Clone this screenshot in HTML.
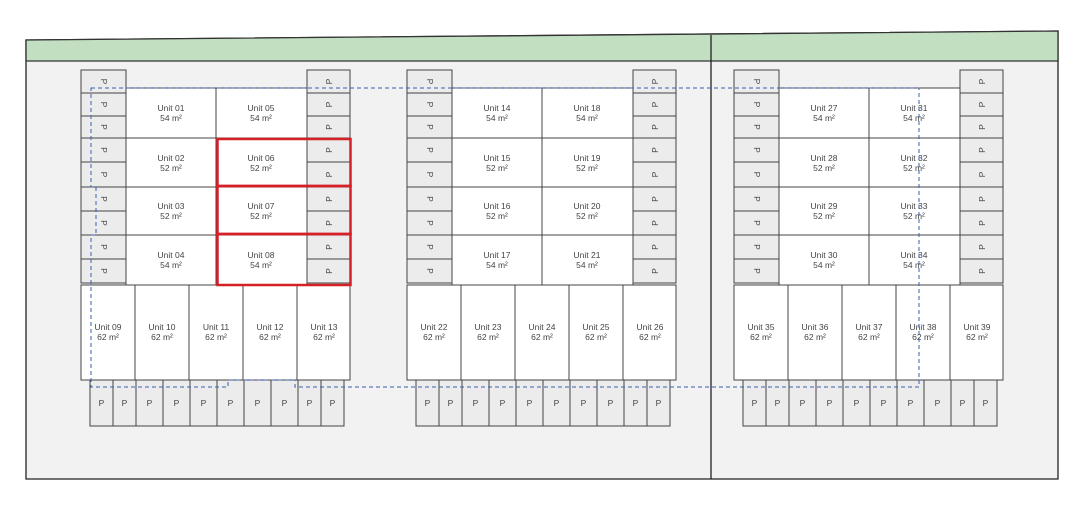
<!DOCTYPE html>
<html><head><meta charset="utf-8"><style>
body{margin:0;background:#fff;width:1080px;height:520px;overflow:hidden}
svg text{font-family:"Liberation Sans",sans-serif;font-size:8.5px;fill:#444;text-anchor:middle}
</style></head><body>
<svg width="1080" height="520" viewBox="0 0 1080 520" xmlns="http://www.w3.org/2000/svg">
<polygon points="26,40 1058,31 1058,479 26,479" fill="#f2f2f2" stroke="#222" stroke-width="1.3"/>
<polygon points="26,40 1058,31 1058,61 26,61" fill="#c2dfc2" stroke="#333" stroke-width="1.3"/>
<line x1="711" y1="35" x2="711" y2="479" stroke="#222" stroke-width="1.3"/>

<g id="A" stroke="#444" stroke-width="1">
<!-- left P -->
<g fill="#ececec">
<rect x="81" y="70" width="45" height="23"/><rect x="81" y="93" width="45" height="23"/><rect x="81" y="116" width="45" height="22"/><rect x="81" y="138" width="45" height="24"/><rect x="81" y="162" width="45" height="25"/><rect x="81" y="187" width="45" height="24"/><rect x="81" y="211" width="45" height="24"/><rect x="81" y="235" width="45" height="24"/><rect x="81" y="259" width="45" height="24"/>
<rect x="307" y="70" width="43" height="23"/><rect x="307" y="93" width="43" height="23"/><rect x="307" y="116" width="43" height="22"/><rect x="307" y="138" width="43" height="24"/><rect x="307" y="162" width="43" height="25"/><rect x="307" y="187" width="43" height="24"/><rect x="307" y="211" width="43" height="24"/><rect x="307" y="235" width="43" height="24"/><rect x="307" y="259" width="43" height="24"/>
<rect x="90" y="380" width="23" height="46"/><rect x="113" y="380" width="23" height="46"/><rect x="136" y="380" width="27" height="46"/><rect x="163" y="380" width="27" height="46"/><rect x="190" y="380" width="27" height="46"/><rect x="217" y="380" width="27" height="46"/><rect x="244" y="380" width="27" height="46"/><rect x="271" y="380" width="27" height="46"/><rect x="298" y="380" width="23" height="46"/><rect x="321" y="380" width="23" height="46"/>
</g>
<g fill="#fff">
<rect x="126" y="88" width="90" height="50"/><rect x="216" y="88" width="91" height="50"/>
<rect x="126" y="138" width="90" height="49"/><rect x="216" y="138" width="91" height="49"/>
<rect x="126" y="187" width="90" height="48"/><rect x="216" y="187" width="91" height="48"/>
<rect x="126" y="235" width="90" height="50"/><rect x="216" y="235" width="91" height="50"/>
<rect x="81" y="285" width="54" height="95"/><rect x="135" y="285" width="54" height="95"/><rect x="189" y="285" width="54" height="95"/><rect x="243" y="285" width="54" height="95"/><rect x="297" y="285" width="53" height="95"/>
</g>
<g stroke="none">
<text transform="translate(104,81.5) rotate(90)" dy="3">P</text><text transform="translate(104,104.5) rotate(90)" dy="3">P</text><text transform="translate(104,127) rotate(90)" dy="3">P</text><text transform="translate(104,150) rotate(90)" dy="3">P</text><text transform="translate(104,174.5) rotate(90)" dy="3">P</text><text transform="translate(104,199) rotate(90)" dy="3">P</text><text transform="translate(104,223) rotate(90)" dy="3">P</text><text transform="translate(104,247) rotate(90)" dy="3">P</text><text transform="translate(104,271) rotate(90)" dy="3">P</text>
<text transform="translate(329,81.5) rotate(-90)" dy="3">P</text><text transform="translate(329,104.5) rotate(-90)" dy="3">P</text><text transform="translate(329,127) rotate(-90)" dy="3">P</text><text transform="translate(329,150) rotate(-90)" dy="3">P</text><text transform="translate(329,174.5) rotate(-90)" dy="3">P</text><text transform="translate(329,199) rotate(-90)" dy="3">P</text><text transform="translate(329,223) rotate(-90)" dy="3">P</text><text transform="translate(329,247) rotate(-90)" dy="3">P</text><text transform="translate(329,271) rotate(-90)" dy="3">P</text>
<text x="101.5" y="406">P</text><text x="124.5" y="406">P</text><text x="149.5" y="406">P</text><text x="176.5" y="406">P</text><text x="203.5" y="406">P</text><text x="230.5" y="406">P</text><text x="257.5" y="406">P</text><text x="284.5" y="406">P</text><text x="309.5" y="406">P</text><text x="332.5" y="406">P</text>
</g>
</g>
<g stroke="none">
<text x="171" y="111">Unit 01</text><text x="171" y="121">54 m²</text><text x="261" y="111">Unit 05</text><text x="261" y="121">54 m²</text>
<text x="171" y="161">Unit 02</text><text x="171" y="171">52 m²</text><text x="261" y="161">Unit 06</text><text x="261" y="171">52 m²</text>
<text x="171" y="209">Unit 03</text><text x="171" y="219">52 m²</text><text x="261" y="209">Unit 07</text><text x="261" y="219">52 m²</text>
<text x="171" y="258">Unit 04</text><text x="171" y="268">54 m²</text><text x="261" y="258">Unit 08</text><text x="261" y="268">54 m²</text>
<text x="108" y="330">Unit 09</text><text x="108" y="340">62 m²</text><text x="162" y="330">Unit 10</text><text x="162" y="340">62 m²</text><text x="216" y="330">Unit 11</text><text x="216" y="340">62 m²</text><text x="270" y="330">Unit 12</text><text x="270" y="340">62 m²</text><text x="324" y="330">Unit 13</text><text x="324" y="340">62 m²</text>
</g>

<use href="#A" transform="translate(326,0)"/>
<g stroke="none">
<text x="497" y="111">Unit 14</text><text x="497" y="121">54 m²</text><text x="587" y="111">Unit 18</text><text x="587" y="121">54 m²</text>
<text x="497" y="161">Unit 15</text><text x="497" y="171">52 m²</text><text x="587" y="161">Unit 19</text><text x="587" y="171">52 m²</text>
<text x="497" y="209">Unit 16</text><text x="497" y="219">52 m²</text><text x="587" y="209">Unit 20</text><text x="587" y="219">52 m²</text>
<text x="497" y="258">Unit 17</text><text x="497" y="268">54 m²</text><text x="587" y="258">Unit 21</text><text x="587" y="268">54 m²</text>
<text x="434" y="330">Unit 22</text><text x="434" y="340">62 m²</text><text x="488" y="330">Unit 23</text><text x="488" y="340">62 m²</text><text x="542" y="330">Unit 24</text><text x="542" y="340">62 m²</text><text x="596" y="330">Unit 25</text><text x="596" y="340">62 m²</text><text x="650" y="330">Unit 26</text><text x="650" y="340">62 m²</text>
</g>

<use href="#A" transform="translate(653,0)"/>
<g stroke="none">
<text x="824" y="111">Unit 27</text><text x="824" y="121">54 m²</text><text x="914" y="111">Unit 31</text><text x="914" y="121">54 m²</text>
<text x="824" y="161">Unit 28</text><text x="824" y="171">52 m²</text><text x="914" y="161">Unit 32</text><text x="914" y="171">52 m²</text>
<text x="824" y="209">Unit 29</text><text x="824" y="219">52 m²</text><text x="914" y="209">Unit 33</text><text x="914" y="219">52 m²</text>
<text x="824" y="258">Unit 30</text><text x="824" y="268">54 m²</text><text x="914" y="258">Unit 34</text><text x="914" y="268">54 m²</text>
<text x="761" y="330">Unit 35</text><text x="761" y="340">62 m²</text><text x="815" y="330">Unit 36</text><text x="815" y="340">62 m²</text><text x="869" y="330">Unit 37</text><text x="869" y="340">62 m²</text><text x="923" y="330">Unit 38</text><text x="923" y="340">62 m²</text><text x="977" y="330">Unit 39</text><text x="977" y="340">62 m²</text>
</g>

<!-- red boxes -->
<g fill="none" stroke="#d61f26" stroke-width="2.5">
<rect x="217.5" y="139" width="133" height="47"/>
<rect x="217.5" y="186" width="133" height="48"/>
<rect x="217.5" y="234" width="133" height="51"/>
</g>

<!-- dashed boundary -->
<path d="M91,88 H919 V387 H295 V380 H228 V387 H91 V235 H96 V187 H91 Z" fill="none" stroke="#3a5fb0" stroke-width="1" stroke-dasharray="4,3"/>
</svg>
</body></html>
